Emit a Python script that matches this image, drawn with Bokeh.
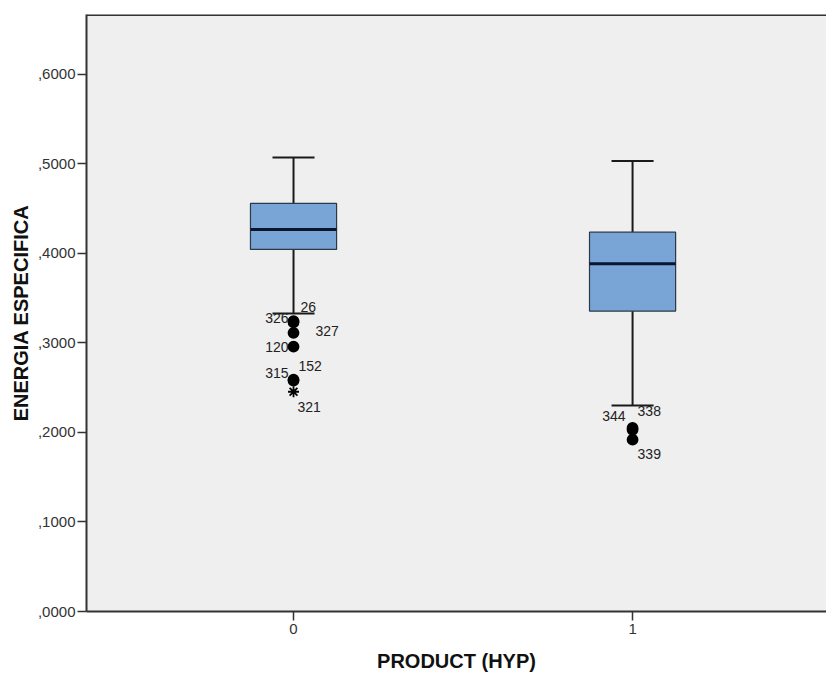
from bokeh.plotting import figure
from bokeh.models import (FixedTicker, CustomJSTickFormatter, Span, ColumnDataSource,
                          Range1d)
from bokeh.embed import file_html
from bokeh.resources import INLINE

# ---------------- data ----------------
categories = ["0", "1"]
whisker_low = [0.3330, 0.2302]
q1 = [0.4045, 0.3356]
median = [0.4268, 0.3884]
q3 = [0.4559, 0.4238]
whisker_high = [0.5073, 0.5032]

out_group = [0, 0, 0, 0, 0, 0, 0, 1, 1, 1]
out_id = ["26", "326", "327", "120", "152", "315", "321", "344", "338", "339"]
out_value = [0.3245, 0.3232, 0.3113, 0.2960, 0.2589, 0.2580, 0.2455, 0.2050, 0.2030, 0.1920]
out_extreme = [False, False, False, False, False, False, True, False, False, False]

y_ticks = [0.0, 0.1, 0.2, 0.3, 0.4, 0.5, 0.6]

# ---------------- styles ----------------
label_dx = [7, -5, 22, -5, 5, -5, 4, -7, 5, 5]
label_dy = [-14, -4, -2, 0, -14, -8, 15, -12, -19, 14]
label_align = ["left", "right", "left", "right", "left", "right", "left", "right", "left", "left"]

FONT = "Liberation Sans"
BOX_W = 0.254
CAP_W = 0.124

xs = list(range(len(categories)))

p = figure(width=826, height=675, output_backend="svg", toolbar_location=None,
           x_range=Range1d(-0.6106, 1.572), y_range=Range1d(0, 0.667),
           min_border_left=86, min_border_right=0, min_border_top=14, min_border_bottom=64)

p.background_fill_color = "#efefef"
p.border_fill_color = "white"
p.outline_line_color = None
p.xgrid.visible = False
p.ygrid.visible = False

box_src = ColumnDataSource(dict(
    x=xs, lo=whisker_low, q1=q1, med=median, q3=q3, hi=whisker_high,
    left=[x - BOX_W / 2 for x in xs], right=[x + BOX_W / 2 for x in xs],
    cl=[x - CAP_W / 2 for x in xs], cr=[x + CAP_W / 2 for x in xs],
))

# whiskers
p.segment(x0="x", y0="q3", x1="x", y1="hi", source=box_src, line_color="#1a1a1a", line_width=2)
p.segment(x0="x", y0="lo", x1="x", y1="q1", source=box_src, line_color="#1a1a1a", line_width=2)
p.segment(x0="cl", y0="hi", x1="cr", y1="hi", source=box_src, line_color="#1a1a1a", line_width=2)
p.segment(x0="cl", y0="lo", x1="cr", y1="lo", source=box_src, line_color="#1a1a1a", line_width=2)
# boxes
p.quad(left="left", right="right", bottom="q1", top="q3", source=box_src,
       fill_color="#79a5d6", line_color="#2a3848", line_width=1.2)
p.segment(x0="left", y0="med", x1="right", y1="med", source=box_src,
          line_color="#0a1530", line_width=3)

# outliers
out_src = ColumnDataSource(dict(
    x=out_group, y=out_value, label=out_id,
    marker=["asterisk" if e else "circle" for e in out_extreme],
    size=[11 if e else 10 for e in out_extreme],
    dx=label_dx, dy=label_dy, align=label_align,
))
p.scatter(x="x", y="y", marker="marker", size="size", source=out_src,
          fill_color="black", line_color="black", line_width=1.8)
p.text(x="x", y="y", text="label", source=out_src, x_offset="dx", y_offset="dy",
       text_align="align", text_baseline="middle", text_font_size="14px",
       text_color="#222222", text_font={"value": FONT})

# top border
p.add_layout(Span(location=0.667, dimension="width", line_color="#333333", line_width=3))

# axes
p.yaxis.ticker = FixedTicker(ticks=y_ticks)
p.yaxis.formatter = CustomJSTickFormatter(code="return ',' + tick.toFixed(4).split('.')[1];")
p.xaxis.ticker = FixedTicker(ticks=xs)
p.xaxis.major_label_overrides = {i: c for i, c in enumerate(categories)}

p.yaxis.axis_label = "ENERGIA ESPECIFICA"
p.xaxis.axis_label = "PRODUCT (HYP)"
for ax in (p.xaxis[0], p.yaxis[0]):
    ax.axis_label_text_font = FONT
    ax.axis_label_text_font_style = "bold"
    ax.axis_label_text_font_size = "20px"
    ax.axis_label_text_color = "#111111"
    ax.major_label_text_font = FONT
    ax.major_label_text_font_size = "15px"
    ax.major_label_text_color = "#333333"
    ax.minor_tick_line_color = None
    ax.major_tick_in = 0
    ax.major_tick_out = 9
    ax.major_tick_line_color = "#333333"
    ax.major_tick_line_width = 1.5
    ax.axis_line_width = 2
    ax.axis_line_color = "#333333"

p.yaxis.major_label_standoff = 2
p.yaxis.axis_label_standoff = 3
p.xaxis.major_label_standoff = 3
p.xaxis.axis_label_standoff = 13

open("out.html", "w").write(file_html(p, INLINE))
